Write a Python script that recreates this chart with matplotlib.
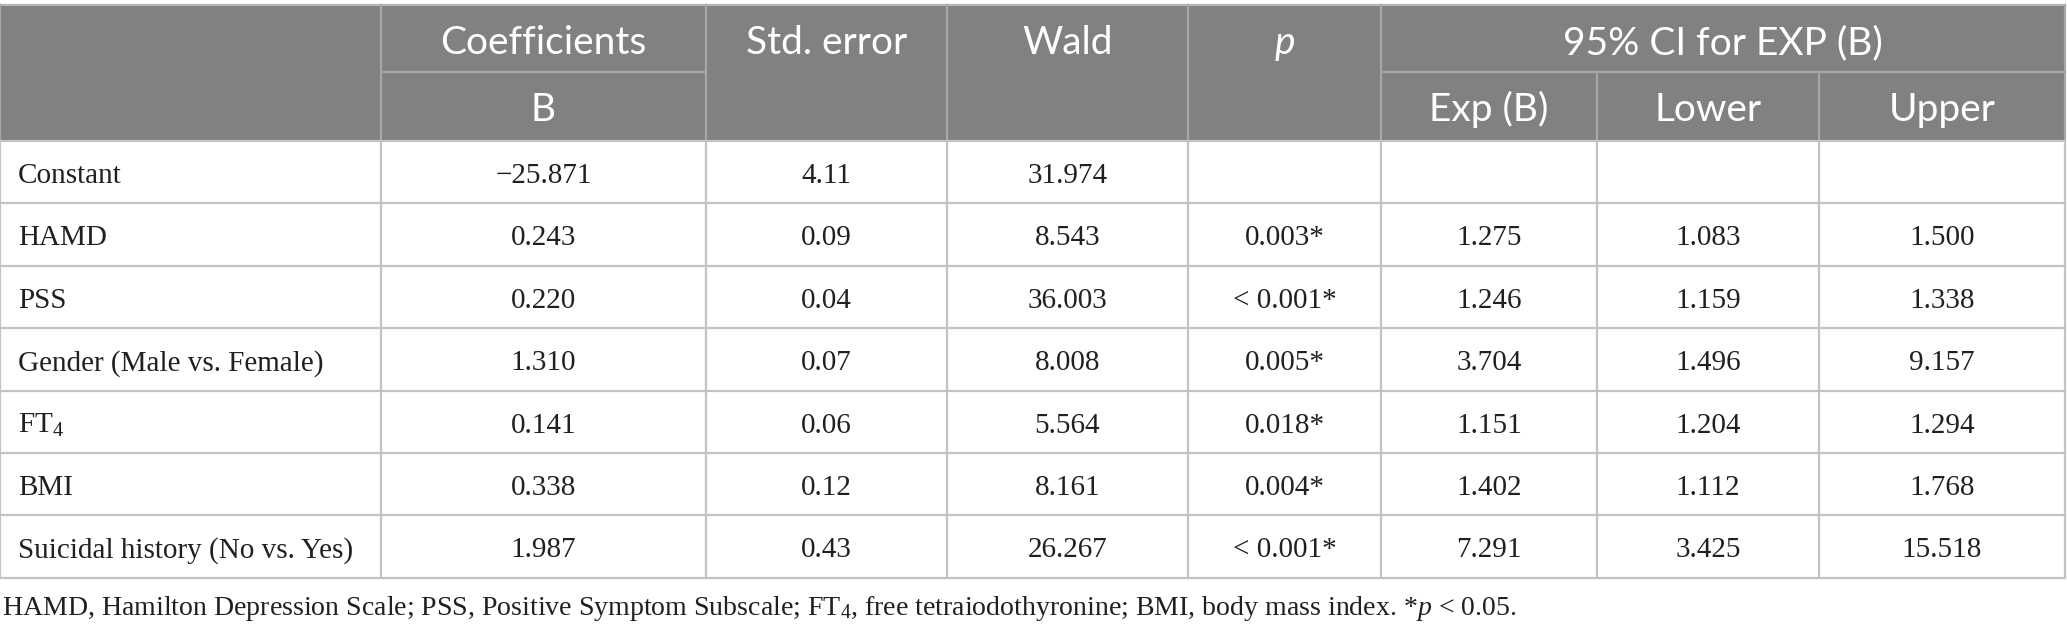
import matplotlib
matplotlib.use("Agg")
import matplotlib.pyplot as plt
from matplotlib.patches import Rectangle

plt.rcParams['mathtext.fontset'] = 'custom'
plt.rcParams['mathtext.rm'] = 'Liberation Serif'
plt.rcParams['mathtext.it'] = 'Liberation Serif:italic'

# ---- data ----
variables = ["Constant", "HAMD", "PSS", "Gender (Male vs. Female)", "FT$_{\\mathrm{4}}$", "BMI",
             "Suicidal history (No vs. Yes)"]
coef_b = ["\u221225.871", "0.243", "0.220", "1.310", "0.141", "0.338", "1.987"]
std_error = ["4.11", "0.09", "0.04", "0.07", "0.06", "0.12", "0.43"]
wald = ["31.974", "8.543", "36.003", "8.008", "5.564", "8.161", "26.267"]
p_values = ["", "0.003*", "< 0.001*", "0.005*", "0.018*", "0.004*", "< 0.001*"]
exp_b = ["", "1.275", "1.246", "3.704", "1.151", "1.402", "7.291"]
ci_lower = ["", "1.083", "1.159", "1.496", "1.204", "1.112", "3.425"]
ci_upper = ["", "1.500", "1.338", "9.157", "1.294", "1.768", "15.518"]
footnote = ("HAMD, Hamilton Depression Scale; PSS, Positive Symptom Subscale; FT$_{\\mathrm{4}}$, "
            "free tetraiodothyronine; BMI, body mass index. *$\\mathit{p}$ < 0.05.")

# ---- layout ----
W, H = 2067, 630
fig = plt.figure(figsize=(W / 100, H / 100), dpi=100)
ax = fig.add_axes([0, 0, 1, 1])
ax.set_xlim(0, W)
ax.set_ylim(H, 0)
ax.axis('off')

cols = [0, 381, 706, 947, 1188, 1381, 1597, 1819, 2065]
y_top, y_mid, y_hdr = 5, 72, 141
row_h = 62.4
n = len(variables)
y_bot = y_hdr + n * row_h

hdr_bg = '#808180'
hdr_line = '#a6a6a6'
grid = '#c3c3c3'
lw = 1.6

ax.add_patch(Rectangle((0, y_top), cols[-1], y_hdr - y_top, facecolor=hdr_bg, edgecolor='none'))
ax.plot([0, cols[-1]], [y_top, y_top], color='#b5b5b5', lw=lw)
for i, x in enumerate(cols):
    if i in (6, 7):
        ax.plot([x, x], [y_mid, y_hdr], color=hdr_line, lw=lw)
    else:
        ax.plot([x, x], [y_top, y_hdr], color=hdr_line, lw=lw)
ax.plot([cols[1], cols[2]], [y_mid, y_mid], color=hdr_line, lw=lw)
ax.plot([cols[5], cols[8]], [y_mid, y_mid], color=hdr_line, lw=lw)

for r in range(n + 1):
    y = y_hdr + r * row_h
    ax.plot([0, cols[-1]], [y, y], color=grid, lw=lw)
for x in cols:
    ax.plot([x, x], [y_hdr, y_bot], color=grid, lw=lw)

# header text
hf = dict(family='Lato', fontsize=28, color='white', ha='center', va='baseline')
cx = lambda i: (cols[i] + cols[i + 1]) / 2
yt = 54
yb = 121
ax.text(cx(1), yt, "Coefficients", **hf)
ax.text(cx(1), yb, "B", **hf)
ax.text(cx(2), yt, "Std. error", **hf)
ax.text(cx(3), yt, "Wald", **hf)
ax.text(cx(4), yt, "p", style='italic', **hf)
ax.text((cols[5] + cols[8]) / 2, yt, "95% CI for EXP (B)", **hf)
ax.text(cx(5), yb, "Exp (B)", **hf)
ax.text(cx(6), yb, "Lower", **hf)
ax.text(cx(7), yb, "Upper", **hf)

# body text
bf = dict(family='Liberation Serif', fontsize=21, color='#231f20', va='baseline')
columns = [coef_b, std_error, wald, p_values, exp_b, ci_lower, ci_upper]
for r in range(n):
    yc = y_hdr + r * row_h + 42
    ax.text(18, yc, variables[r], ha='left', **bf)
    for j, colvals in enumerate(columns):
        ax.text(cx(j + 1), yc, colvals[r], ha='center', **bf)

ax.text(2, 615, footnote, ha='left', family='Liberation Serif', fontsize=20.1,
        color='#231f20', va='baseline')

fig.savefig("out.png", dpi=100)
